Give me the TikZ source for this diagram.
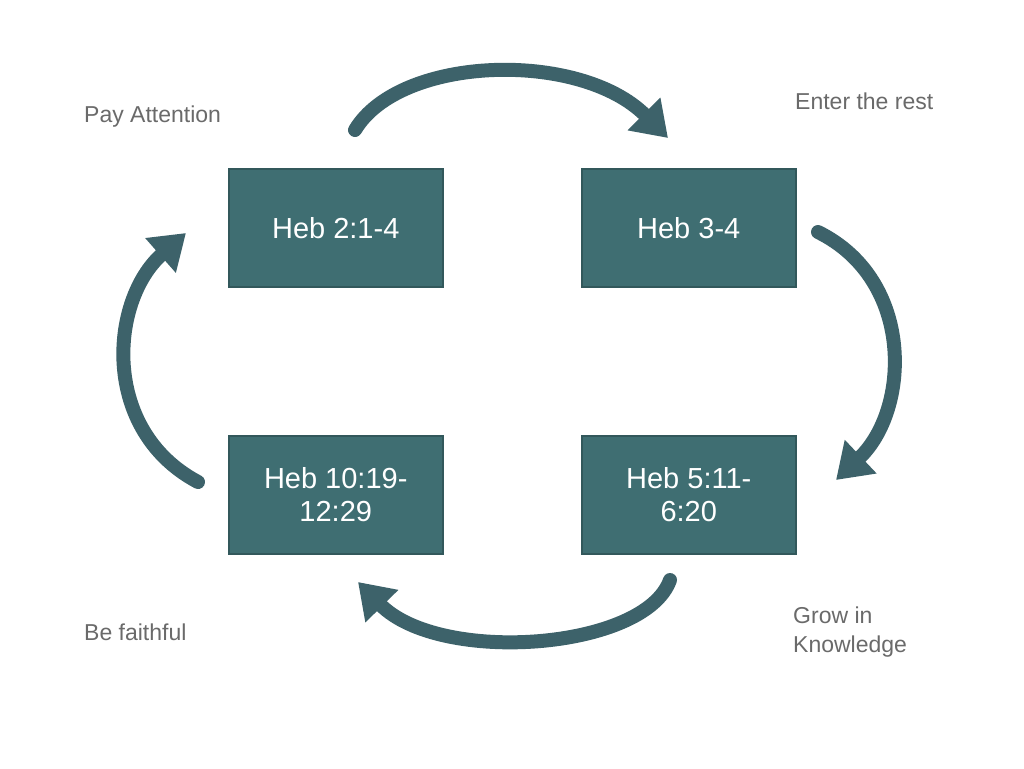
\documentclass[tikz,border=0pt]{standalone}
\usepackage{fontspec}
\setmainfont{Liberation Sans}
\usetikzlibrary{arrows.meta}
\definecolor{teal1}{HTML}{3F6E72}
\definecolor{arr}{HTML}{3D626A}
\definecolor{lab}{HTML}{6A6A6A}
\begin{document}
\begin{tikzpicture}[x=1pt,y=-1pt,
  box/.style={fill=teal1,draw=teal1!80!black,line width=1.5pt,minimum width=214pt,minimum height=118pt,text=white,font=\fontsize{29}{33}\selectfont,align=center,anchor=north west,inner sep=0pt},
  lbl/.style={text=lab,font=\fontsize{23}{29}\selectfont,align=left,anchor=west,inner sep=0pt},
  cyc/.style={draw=arr,line width=14pt,line cap=round,-{Triangle[length=34pt,width=44pt]}}]
\useasboundingbox (0,0) rectangle (1024,768);
\fill[white] (0,0) rectangle (1024,768);
\node[box] (b1) at (228,168) {Heb 2:1-4};
\node[box] (b2) at (581,168) {Heb 3-4};
\node[box] (b3) at (228,435) {Heb 10:19-\\12:29};
\node[box] (b4) at (581,435) {Heb 5:11-\\6:20};
\node[lbl] (l1) at (84,117) {Pay Attention};
\node[lbl] (l2) at (795,101) {Enter the rest};
\node[lbl] (l3) at (84,632) {Be faithful};
\node[lbl] (l4) at (793,632) {Grow in\\Knowledge};
\coordinate (t1) at (355,130); \coordinate (t2) at (668,138);
\coordinate (r1) at (818,232); \coordinate (r2) at (836,480);
\coordinate (d1) at (670,580); \coordinate (d2) at (358,582);
\coordinate (f1) at (198,482); \coordinate (f2) at (186,233);
\draw[cyc] (t1) .. controls (400,55) and (580,50) .. (t2);
\draw[cyc] (r1) .. controls (915,280) and (910,410) .. (r2);
\draw[cyc] (d1) .. controls (645,650) and (440,665) .. (d2);
\draw[cyc] (f1) .. controls (100,430) and (110,300) .. (f2);
\end{tikzpicture}
\end{document}
